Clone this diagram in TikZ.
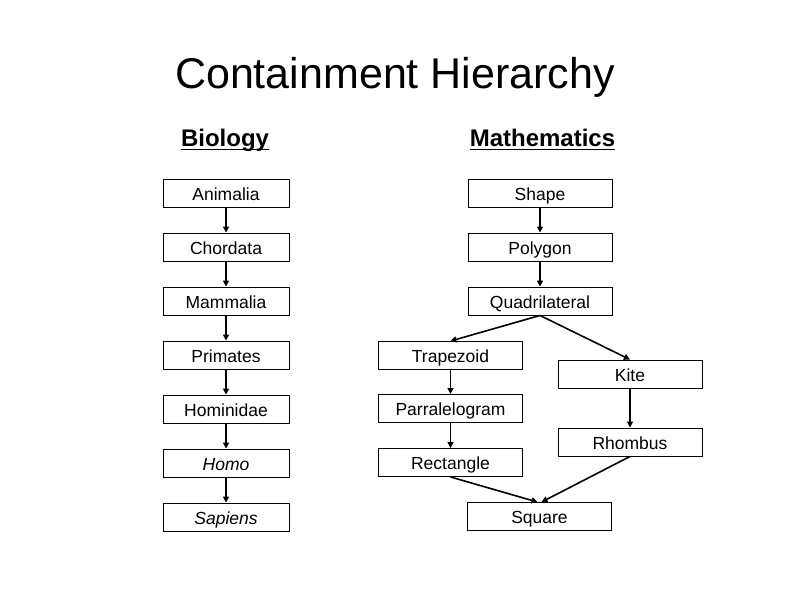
\documentclass[tikz,border=0pt]{standalone}
\usepackage{fontspec}
\setmainfont{Liberation Sans}
\usetikzlibrary{arrows.meta}
\begin{document}
\begin{tikzpicture}[x=1pt,y=-1pt,
  lbox/.style={draw,line width=0.9pt,minimum width=126pt,minimum height=28pt,inner sep=0pt,text height=15pt,text depth=1pt,font=\fontsize{17.5}{20}\selectfont},
  rbox/.style={draw,line width=0.9pt,minimum width=144pt,minimum height=28pt,inner sep=0pt,text height=15pt,text depth=1pt,font=\fontsize{17.5}{20}\selectfont},
  arr/.style={line width=1.6pt,-{Triangle[length=6pt,width=6pt]}},
  head/.style={inner sep=0pt,anchor=base,font=\fontsize{24}{28}\selectfont\bfseries}]
\useasboundingbox (0,0) rectangle (794,595);
\node[anchor=base,inner sep=0pt,font=\fontsize{43}{50}\selectfont] (title) at (395,88) {Containment Hierarchy};
\node[head] (bio) at (225,146) {Biology};
\node[head] (math) at (542.5,146) {Mathematics};
\draw[line width=1.6pt] ([yshift=-3.5]bio.base west) -- ([yshift=-3.5]bio.base east);
\draw[line width=1.6pt] ([yshift=-3.5]math.base west) -- ([yshift=-3.5]math.base east);
% left column
\node[lbox] (ani) at (226,193) {Animalia};
\node[lbox] (cho) at (226,247) {Chordata};
\node[lbox] (mam) at (226,301) {Mammalia};
\node[lbox] (pri) at (226,355) {Primates};
\node[lbox] (hom) at (226,409) {Hominidae};
\node[lbox] (homo) at (226,463) {\itshape Homo};
\node[lbox] (sap) at (226,517) {\itshape Sapiens};
\foreach \a/\b in {ani/cho,cho/mam,mam/pri,pri/hom,hom/homo,homo/sap}
  \draw[arr] (\a.south) -- (\b.north);
% right column
\node[rbox] (sha) at (540,193) {Shape};
\node[rbox] (pol) at (540,247) {Polygon};
\node[rbox] (qua) at (540,301) {Quadrilateral};
\node[rbox] (tra) at (450.5,355.5) {Trapezoid};
\node[rbox] (kit) at (630,374) {Kite};
\node[rbox] (par) at (450.5,408.5) {Parralelogram};
\node[rbox] (rho) at (630,442) {Rhombus};
\node[rbox] (rec) at (450.5,462.5) {Rectangle};
\node[rbox] (squ) at (539.5,516.5) {Square};
\draw[arr] (sha.south) -- (pol.north);
\draw[arr] (pol.south) -- (qua.north);
\draw[arr] (qua.south) -- (tra.north);
\draw[arr] (qua.south) -- (kit.north);
\draw[arr] (tra.south) -- (par.north);
\draw[arr] (kit.south) -- (rho.north);
\draw[arr] (par.south) -- (rec.north);
\draw[arr] (rec.south) -- ([xshift=-2]squ.north);
\draw[arr] (rho.south) -- ([xshift=2]squ.north);
\end{tikzpicture}
\end{document}
